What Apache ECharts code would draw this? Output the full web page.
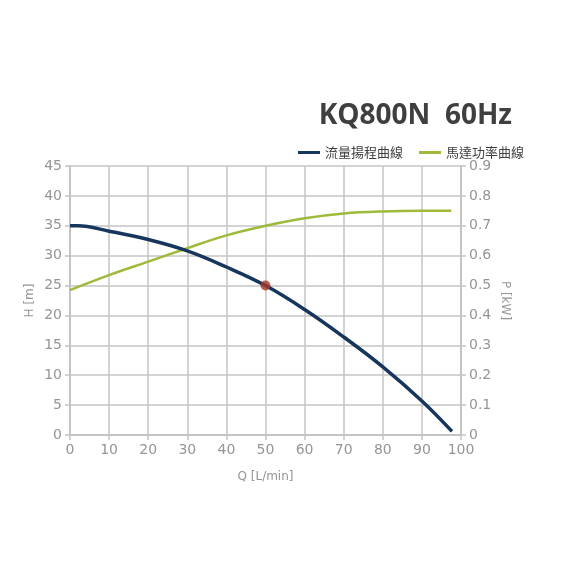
<!DOCTYPE html>
<html>
<head>
<meta charset="utf-8">
<script src="https://cdn.jsdelivr.net/npm/echarts@6/dist/echarts.min.js"></script>
<style>html,body{margin:0;padding:0;background:#fff;}#c{width:567px;height:567px;}</style>
</head>
<body>
<div id="c"></div>
<script>
var titleText = 'KQ800N  60Hz';
var seriesNames = ['流量揚程曲線', '馬達功率曲線'];
var headQ =     [0,    2,    10,   20,   30,   40,   50,  60,   70,   80,   90,  97.7];
var headH =     [35,   35,   34.1, 32.7, 30.8, 28.1, 25,  21,   16.4, 11.4, 5.7, 0.6];
var powerQ =    [0,    10,    20,    30,    40,    50,    60,    70,    80,    90,    97.5];
var powerP =    [0.485,0.535, 0.58,  0.625, 0.668, 0.7,   0.725, 0.741, 0.748, 0.75,  0.75];
var ratedPoint = [50, 25];

function pairs(a, b) { return a.map(function (v, i) { return [v, b[i]]; }); }

var chart = echarts.init(document.getElementById('c'));
var axisGray = '#959595';
var gridGray = '#c4c4c4';
chart.setOption({
  animation: false,
  title: {
    text: titleText, right: 50, top: 97,
    textStyle: { fontFamily: 'Open Sans', fontWeight: 'bold', fontSize: 28, color: '#3f3f3f' }
  },
  legend: {
    right: 38, top: 141, itemWidth: 22, itemHeight: 3, itemGap: 16,
    textStyle: { fontFamily: 'Noto Sans CJK TC', fontSize: 13, color: '#404040' },
    data: [{ name: seriesNames[0], icon: 'rect' }, { name: seriesNames[1], icon: 'rect' }]
  },
  grid: { left: 70, right: 106, top: 166, bottom: 132 },
  xAxis: {
    type: 'value', min: 0, max: 100, interval: 10,
    name: 'Q [L/min]', nameLocation: 'middle', nameGap: 36,
    nameTextStyle: { color: axisGray, fontSize: 12, fontFamily: 'DejaVu Sans' },
    axisLine: { lineStyle: { color: gridGray, width: 2 } },
    axisTick: { show: true, length: 5, lineStyle: { color: gridGray, width: 1.5 } },
    axisLabel: { color: axisGray, fontSize: 14, fontFamily: 'DejaVu Sans', margin: 8 },
    splitLine: { show: true, lineStyle: { color: gridGray, width: 1.5 } }
  },
  yAxis: [{
    type: 'value', min: 0, max: 45, interval: 5,
    name: 'H [m]', nameLocation: 'middle', nameGap: 34, nameMoveOverlap: false,
    nameTextStyle: { color: axisGray, fontSize: 12, fontFamily: 'DejaVu Sans' },
    axisLine: { show: true, lineStyle: { color: gridGray, width: 2 } },
    axisTick: { show: true, length: 5, lineStyle: { color: gridGray, width: 1.5 } },
    axisLabel: { color: axisGray, fontSize: 14, fontFamily: 'DejaVu Sans', margin: 8 },
    splitLine: { show: true, lineStyle: { color: gridGray, width: 1.5 } }
  }, {
    type: 'value', min: 0, max: 0.9, interval: 0.1, position: 'right',
    name: 'P [kW]', nameLocation: 'middle', nameGap: 38, nameRotate: -90, nameMoveOverlap: false,
    nameTextStyle: { color: axisGray, fontSize: 12, fontFamily: 'DejaVu Sans' },
    axisLine: { show: true, lineStyle: { color: gridGray, width: 2 } },
    axisTick: { show: true, length: 5, lineStyle: { color: gridGray, width: 1.5 } },
    axisLabel: { color: axisGray, fontSize: 14, fontFamily: 'DejaVu Sans', margin: 8 },
    splitLine: { show: false }
  }],
  series: [{
    name: seriesNames[0], type: 'line', yAxisIndex: 0, smooth: 0.4, showSymbol: false,
    data: pairs(headQ, headH), color: '#17365d',
    lineStyle: { width: 3.5, color: '#17365d' }, z: 3
  }, {
    name: seriesNames[1], type: 'line', yAxisIndex: 1, smooth: 0.4, showSymbol: false,
    data: pairs(powerQ, powerP), color: '#9fba3a',
    lineStyle: { width: 2.5, color: '#9fba3a' }, z: 2
  }, {
    name: 'rated', type: 'scatter', yAxisIndex: 0, data: [ratedPoint],
    symbolSize: 10, itemStyle: { color: '#a8352a' }, z: 5
  }]
});
</script>
</body>
</html>
